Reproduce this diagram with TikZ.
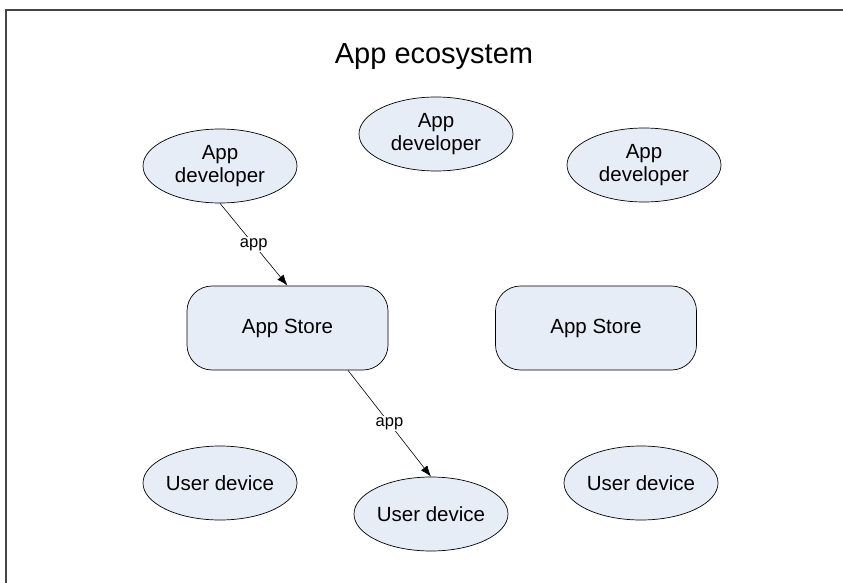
\documentclass[tikz,border=0pt]{standalone}
\usepackage{fontspec}
\setmainfont{Liberation Sans}
\usetikzlibrary{shapes.geometric,arrows.meta}
\definecolor{nodefill}{RGB}{231,237,247}
\definecolor{framegray}{RGB}{70,70,70}
\begin{document}
\begin{tikzpicture}[x=1pt,y=-1pt,
  actor/.style={ellipse,draw,line width=0.7pt,fill=nodefill,
    minimum width=154pt,minimum height=74pt,inner sep=0pt,align=center,
    font=\fontsize{20.5}{23}\selectfont},
  storebox/.style={rectangle,rounded corners=25pt,draw,line width=0.7pt,fill=nodefill,
    minimum width=201pt,minimum height=84pt,inner sep=0pt,
    font=\fontsize{20.5}{23}\selectfont},
  flow/.style={draw,line width=0.6pt,-{Latex[length=11pt,width=8pt]}},
  flowlabel/.style={fill=white,inner sep=1.5pt,font=\fontsize{16.5}{18}\selectfont}]
\useasboundingbox (0,0) rectangle (843,583);

% page frame (top and left edges)
\draw[line width=1.3pt,framegray] (6,583) -- (6,10) -- (843,10);

% title
\node[font=\fontsize{29}{32}\selectfont] (title) at (434,57) {App ecosystem};

% developers
\node[actor] (dev1) at (220,166) {App\\developer};
\node[actor] (dev2) at (436,134) {App\\developer};
\node[actor] (dev3) at (644,165) {App\\developer};

% stores
\node[storebox] (store1) at (287.5,328) {App Store};
\node[storebox] (store2) at (596,328) {App Store};

% user devices
\node[actor] (user1) at (220,483) {User device};
\node[actor] (user2) at (431,514) {User device};
\node[actor] (user3) at (641,483) {User device};

% flows
\draw[flow] (dev1.south) -- node[flowlabel] {app} (store1.north);
\draw[flow] (store1.-35) -- node[flowlabel] {app} (user2.north);
\end{tikzpicture}
\end{document}
